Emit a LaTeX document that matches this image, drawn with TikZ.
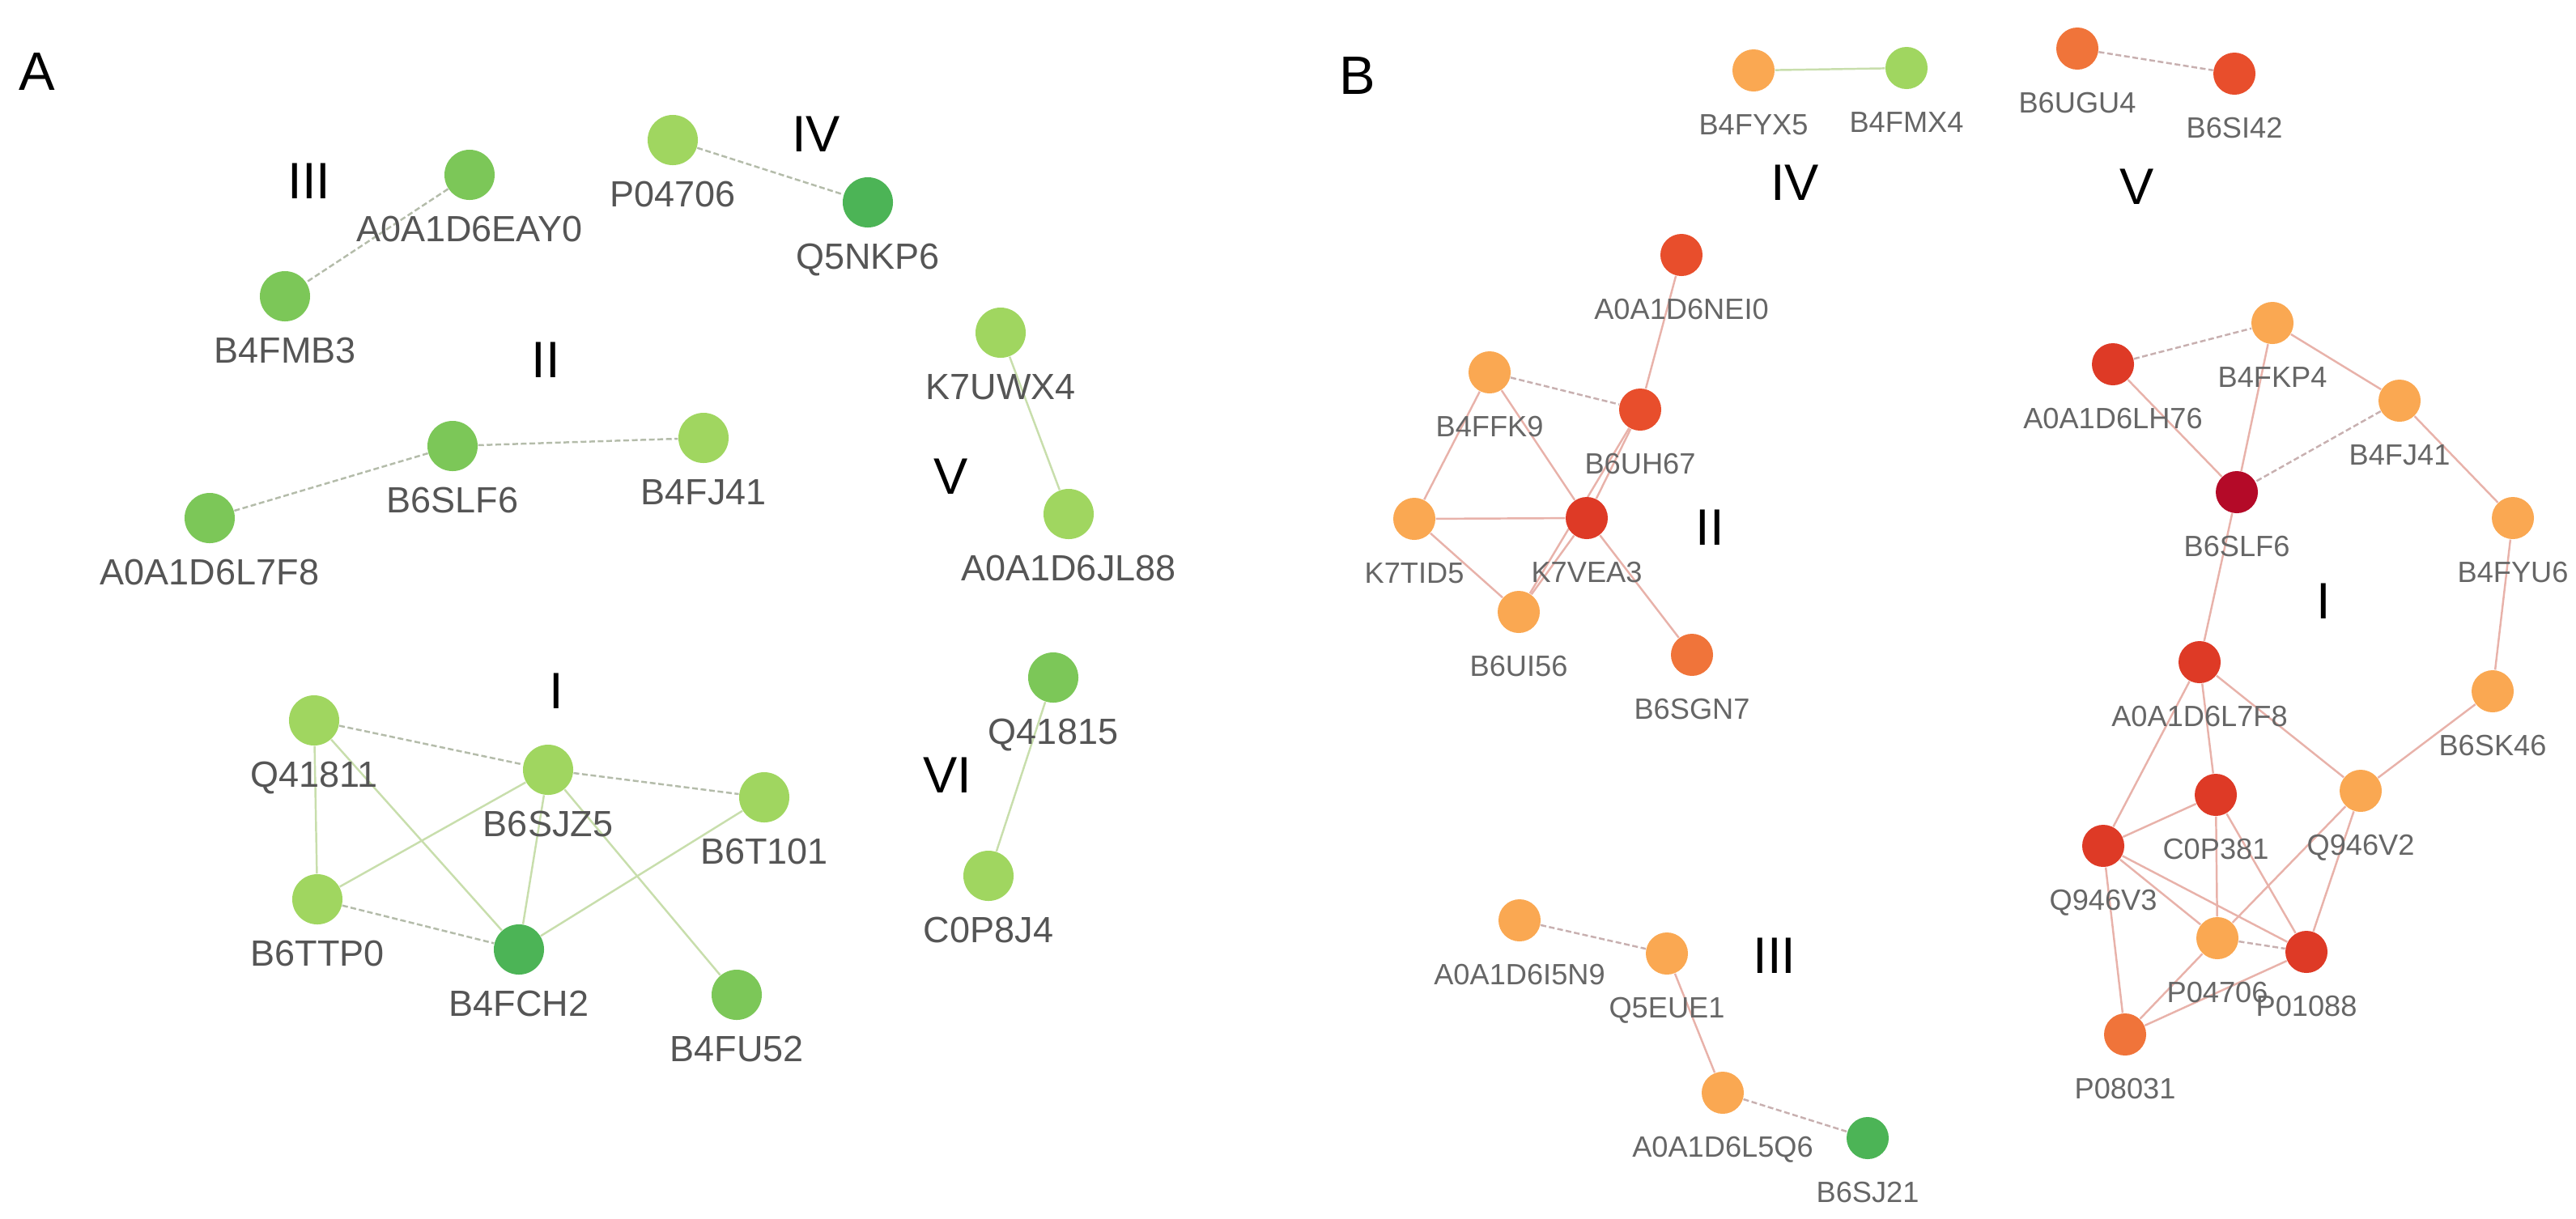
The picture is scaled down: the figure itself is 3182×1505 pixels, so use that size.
\documentclass[tikz,border=0pt]{standalone}
\usepackage{fontspec}
\setmainfont{Liberation Sans}
\usetikzlibrary{backgrounds}

\definecolor{gL}{RGB}{160,214,96}
\definecolor{gM}{RGB}{124,199,88}
\definecolor{gD}{RGB}{76,180,86}
\definecolor{oL}{RGB}{250,168,82}
\definecolor{oM}{RGB}{240,116,58}
\definecolor{rO}{RGB}{232,78,44}
\definecolor{rR}{RGB}{222,58,38}
\definecolor{rD}{RGB}{180,10,40}
\definecolor{eA}{RGB}{200,222,172}
\definecolor{eAd}{RGB}{180,188,170}
\definecolor{eB}{RGB}{232,178,170}
\definecolor{eBd}{RGB}{200,176,176}
\definecolor{txt}{RGB}{85,85,85}

\tikzset{
  pa/.style={circle, inner sep=0pt, minimum size=6.2mm, fill=#1},
  pb/.style={circle, inner sep=0pt, minimum size=5.2mm, fill=#1},
  la/.style={font=\fontsize{12.8}{14}\selectfont, text=txt, inner sep=0pt, text height=3.2mm, text depth=0pt, yshift=-1.8mm},
  lb/.style={font=\fontsize{10.3}{12}\selectfont, text=txt!90, inner sep=0pt, text height=2.6mm, text depth=0pt, yshift=-2.6mm},
  roman/.style={font=\fontsize{18}{19}\selectfont},
  panel/.style={font=\fontsize{19}{20}\selectfont},
  ea/.style={draw=eA, line width=0.7pt},
  ead/.style={draw=eAd, line width=0.7pt, dash pattern=on 2pt off 1pt},
  eb/.style={draw=eB, line width=0.7pt},
  ebd/.style={draw=eBd, line width=0.7pt, dash pattern=on 2pt off 1pt},
}

\begin{document}
\begin{tikzpicture}[x=0.01cm, y=-0.01cm]
	%%%%% START %%%%%
	\useasboundingbox (0,0) rectangle (3182,1505);
	
	%%%%% panel A
	\node[panel] (tA) at (46,89) {A};
	\node[roman] (aIII) at (382,224) {III};
	\node[roman] (aIV) at (1008,166) {IV};
	\node[roman] (aII) at (674,445) {II};
	\node[roman] (aV) at (1175,589) {V};
	\node[roman] (aI) at (687,854) {I};
	\node[roman] (aVI) at (1170,958) {VI};
	
	\node[pa=gM, label={[la]below:A0A1D6EAY0}] (aEAY0) at (580,216) {};
	\node[pa=gM, label={[la]below:B4FMB3}] (aB4FMB3) at (352,366) {};
	\node[pa=gL, label={[la]below:P04706}] (aP04706) at (831,173) {};
	\node[pa=gD, label={[la]below:Q5NKP6}] (aQ5NKP6) at (1072,250) {};
	\node[pa=gM, label={[la]below:B6SLF6}] (aB6SLF6) at (559,551) {};
	\node[pa=gL, label={[la]below:B4FJ41}] (aB4FJ41) at (869,541) {};
	\node[pa=gM, label={[la]below:A0A1D6L7F8}] (aL7F8) at (259,640) {};
	\node[pa=gL, label={[la]below:K7UWX4}] (aK7UWX4) at (1236,411) {};
	\node[pa=gL, label={[la]below:A0A1D6JL88}] (aJL88) at (1320,635) {};
	\node[pa=gL, label={[la]below:Q41811}] (aQ41811) at (388,890) {};
	\node[pa=gL, label={[la]below:B6SJZ5}] (aB6SJZ5) at (677,951) {};
	\node[pa=gL, label={[la]below:B6T101}] (aB6T101) at (944,985) {};
	\node[pa=gL, label={[la]below:B6TTP0}] (aB6TTP0) at (392,1111) {};
	\node[pa=gD, label={[la]below:B4FCH2}] (aB4FCH2) at (641,1173) {};
	\node[pa=gM, label={[la]below:B4FU52}] (aB4FU52) at (910,1229) {};
	\node[pa=gM, label={[la]below:Q41815}] (aQ41815) at (1301,837) {};
	\node[pa=gL, label={[la]below:C0P8J4}] (aC0P8J4) at (1221,1082) {};
	
	%%%%% panel B
	\node[panel] (tB) at (1677,94) {B};
	\node[roman] (bIV) at (2217,226) {IV};
	\node[roman] (bV) at (2640,231) {V};
	\node[roman] (bII) at (2112,652) {II};
	\node[roman] (bI) at (2870,743) {I};
	\node[roman] (bIII) at (2192,1181) {III};
	
	\node[pb=oL, label={[lb]below:B4FYX5}] (bB4FYX5) at (2166,87) {};
	\node[pb=gL, label={[lb]below:B4FMX4}] (bB4FMX4) at (2355,84) {};
	\node[pb=oM, label={[lb]below:B6UGU4}] (bB6UGU4) at (2566,60) {};
	\node[pb=rO, label={[lb]below:B6SI42}] (bB6SI42) at (2760,91) {};
	
	\node[pb=rO, label={[lb]below:A0A1D6NEI0}] (bNEI0) at (2077,315) {};
	\node[pb=oL, label={[lb]below:B4FFK9}] (bB4FFK9) at (1840,460) {};
	\node[pb=rO, label={[lb]below:B6UH67}] (bB6UH67) at (2026,506) {};
	\node[pb=oL, label={[lb]below:K7TID5}] (bK7TID5) at (1747,641) {};
	\node[pb=rR, label={[lb]below:K7VEA3}] (bK7VEA3) at (1960,640) {};
	\node[pb=oL, label={[lb]below:B6UI56}] (bB6UI56) at (1876,756) {};
	\node[pb=oM, label={[lb]below:B6SGN7}] (bB6SGN7) at (2090,809) {};
	
	\node[pb=rR, label={[lb]below:A0A1D6LH76}] (bLH76) at (2610,450) {};
	\node[pb=oL, label={[lb]below:B4FKP4}] (bB4FKP4) at (2807,399) {};
	\node[pb=oL, label={[lb]below:B4FJ41}] (bB4FJ41) at (2964,495) {};
	\node[pb=rD, label={[lb]below:B6SLF6}] (bB6SLF6) at (2763,608) {};
	\node[pb=oL, label={[lb]below:B4FYU6}] (bB4FYU6) at (3104,640) {};
	\node[pb=rR, label={[lb]below:A0A1D6L7F8}] (bL7F8) at (2717,818) {};
	\node[pb=oL, label={[lb]below:B6SK46}] (bB6SK46) at (3079,854) {};
	\node[pb=rR, label={[lb]below:C0P381}] (bC0P381) at (2737,982) {};
	\node[pb=oL, label={[lb]below:Q946V2}] (bQ946V2) at (2916,977) {};
	\node[pb=rR, label={[lb]below:Q946V3}] (bQ946V3) at (2598,1045) {};
	\node[pb=oL, label={[lb]below:P04706}] (bP04706) at (2739,1159) {};
	\node[pb=rR, label={[lb]below:P01088}] (bP01088) at (2849,1176) {};
	\node[pb=oM, label={[lb]below:P08031}] (bP08031) at (2625,1278) {};
	
	\node[pb=oL, label={[lb]below:A0A1D6I5N9}] (bI5N9) at (1877,1137) {};
	\node[pb=oL, label={[lb]below:Q5EUE1}] (bQ5EUE1) at (2059,1178) {};
	\node[pb=oL, label={[lb]below:A0A1D6L5Q6}] (bL5Q6) at (2128,1350) {};
	\node[pb=gD, label={[lb]below:B6SJ21}] (bB6SJ21) at (2307,1406) {};
	
	%%%%% edges
	\begin{scope}[on background layer]
		\draw[ead] (aEAY0) -- (aB4FMB3);
		\draw[ead] (aP04706) -- (aQ5NKP6);
		\draw[ead] (aL7F8) -- (aB6SLF6);
		\draw[ead] (aB6SLF6) -- (aB4FJ41);
		\draw[ea] (aK7UWX4) -- (aJL88);
		\draw[ead] (aQ41811) -- (aB6SJZ5);
		\draw[ea] (aQ41811) -- (aB6TTP0);
		\draw[ea] (aQ41811) -- (aB4FCH2);
		\draw[ead] (aB6SJZ5) -- (aB6T101);
		\draw[ea] (aB6SJZ5) -- (aB6TTP0);
		\draw[ea] (aB6SJZ5) -- (aB4FCH2);
		\draw[ea] (aB6SJZ5) -- (aB4FU52);
		\draw[ea] (aB6T101) -- (aB4FCH2);
		\draw[ead] (aB6TTP0) -- (aB4FCH2);
		\draw[ea] (aQ41815) -- (aC0P8J4);
		
		\draw[ea] (bB4FYX5) -- (bB4FMX4);
		\draw[ebd] (bB6UGU4) -- (bB6SI42);
		\draw[eb] (bNEI0) -- (bB6UH67);
		\draw[ebd] (bB4FFK9) -- (bB6UH67);
		\draw[eb] (bB4FFK9) -- (bK7TID5);
		\draw[eb] (bB4FFK9) -- (bK7VEA3);
		\draw[eb] (bK7TID5) -- (bK7VEA3);
		\draw[eb] (bK7TID5) -- (bB6UI56);
		\draw[eb] (bB6UH67) -- (bK7VEA3);
		\draw[eb] (bB6UH67) -- (bB6UI56);
		\draw[eb] (bK7VEA3) -- (bB6UI56);
		\draw[eb] (bK7VEA3) -- (bB6SGN7);
		\draw[ebd] (bLH76) -- (bB4FKP4);
		\draw[eb] (bLH76) -- (bB6SLF6);
		\draw[eb] (bB4FKP4) -- (bB6SLF6);
		\draw[eb] (bB4FKP4) -- (bB4FJ41);
		\draw[ebd] (bB4FJ41) -- (bB6SLF6);
		\draw[eb] (bB4FJ41) -- (bB4FYU6);
		\draw[eb] (bB4FYU6) -- (bB6SK46);
		\draw[eb] (bB6SLF6) -- (bL7F8);
		\draw[eb] (bB6SK46) -- (bQ946V2);
		\draw[eb] (bL7F8) -- (bQ946V3);
		\draw[eb] (bL7F8) -- (bC0P381);
		\draw[eb] (bL7F8) -- (bQ946V2);
		\draw[eb] (bC0P381) -- (bQ946V3);
		\draw[eb] (bC0P381) -- (bP04706);
		\draw[eb] (bC0P381) -- (bP01088);
		\draw[eb] (bQ946V2) -- (bP04706);
		\draw[eb] (bQ946V2) -- (bP01088);
		\draw[eb] (bQ946V3) -- (bP04706);
		\draw[eb] (bQ946V3) -- (bP01088);
		\draw[eb] (bQ946V3) -- (bP08031);
		\draw[ebd] (bP04706) -- (bP01088);
		\draw[eb] (bP08031) -- (bP04706);
		\draw[eb] (bP08031) -- (bP01088);
		\draw[ebd] (bI5N9) -- (bQ5EUE1);
		\draw[eb] (bQ5EUE1) -- (bL5Q6);
		\draw[ebd] (bL5Q6) -- (bB6SJ21);
	\end{scope}
	%%%%% END %%%%%
\end{tikzpicture}
\end{document}
